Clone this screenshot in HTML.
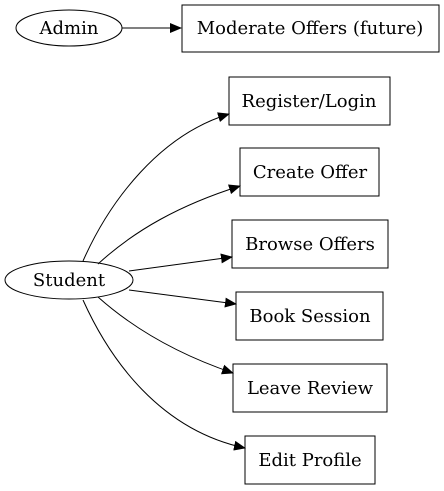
<!DOCTYPE html>
<html><head><style>body{margin:0;background:#fff}svg{display:block}text{font-family:"DejaVu Serif",serif;font-size:18px}</style></head>
<body>
<svg width="444" height="491" viewBox="0 0 444 491" xmlns="http://www.w3.org/2000/svg">
<defs><marker id="a" markerWidth="12" markerHeight="10" refX="11" refY="5" orient="auto" markerUnits="userSpaceOnUse"><path d="M0,0 L12,5 L0,10 Z" fill="#000"/></marker></defs>
<g fill="none" stroke="#000" stroke-width="1">
<ellipse cx="69" cy="28" rx="53" ry="18"/>
<rect x="182" y="5" width="257" height="47"/>
<rect x="229" y="77" width="161" height="48"/>
<rect x="240" y="148" width="139" height="48"/>
<rect x="232" y="220" width="156" height="48"/>
<ellipse cx="69" cy="280" rx="64" ry="19"/>
<rect x="236" y="292" width="147" height="48"/>
<rect x="233" y="364" width="154" height="48"/>
<rect x="245" y="436" width="130" height="48"/>
<path d="M122,28 L181,28" marker-end="url(#a)"/>
<path d="M83,261 C110,200 160,135 229,114" marker-end="url(#a)"/>
<path d="M98,264 C135,230 180,205 240,186" marker-end="url(#a)"/>
<path d="M129,271 L232,257" marker-end="url(#a)"/>
<path d="M129,290 L236,304" marker-end="url(#a)"/>
<path d="M98,297 C135,330 180,355 233,373" marker-end="url(#a)"/>
<path d="M83,300 C110,360 160,430 245,448" marker-end="url(#a)"/>
</g>
<g text-anchor="middle" fill="#000">
<text x="69" y="34">Admin</text>
<text x="310" y="34">Moderate Offers (future)</text>
<text x="309" y="107">Register/Login</text>
<text x="310" y="178">Create Offer</text>
<text x="310" y="250">Browse Offers</text>
<text x="69" y="286">Student</text>
<text x="310" y="322">Book Session</text>
<text x="310" y="394">Leave Review</text>
<text x="310" y="466">Edit Profile</text>
</g>
</svg>
</body></html>
